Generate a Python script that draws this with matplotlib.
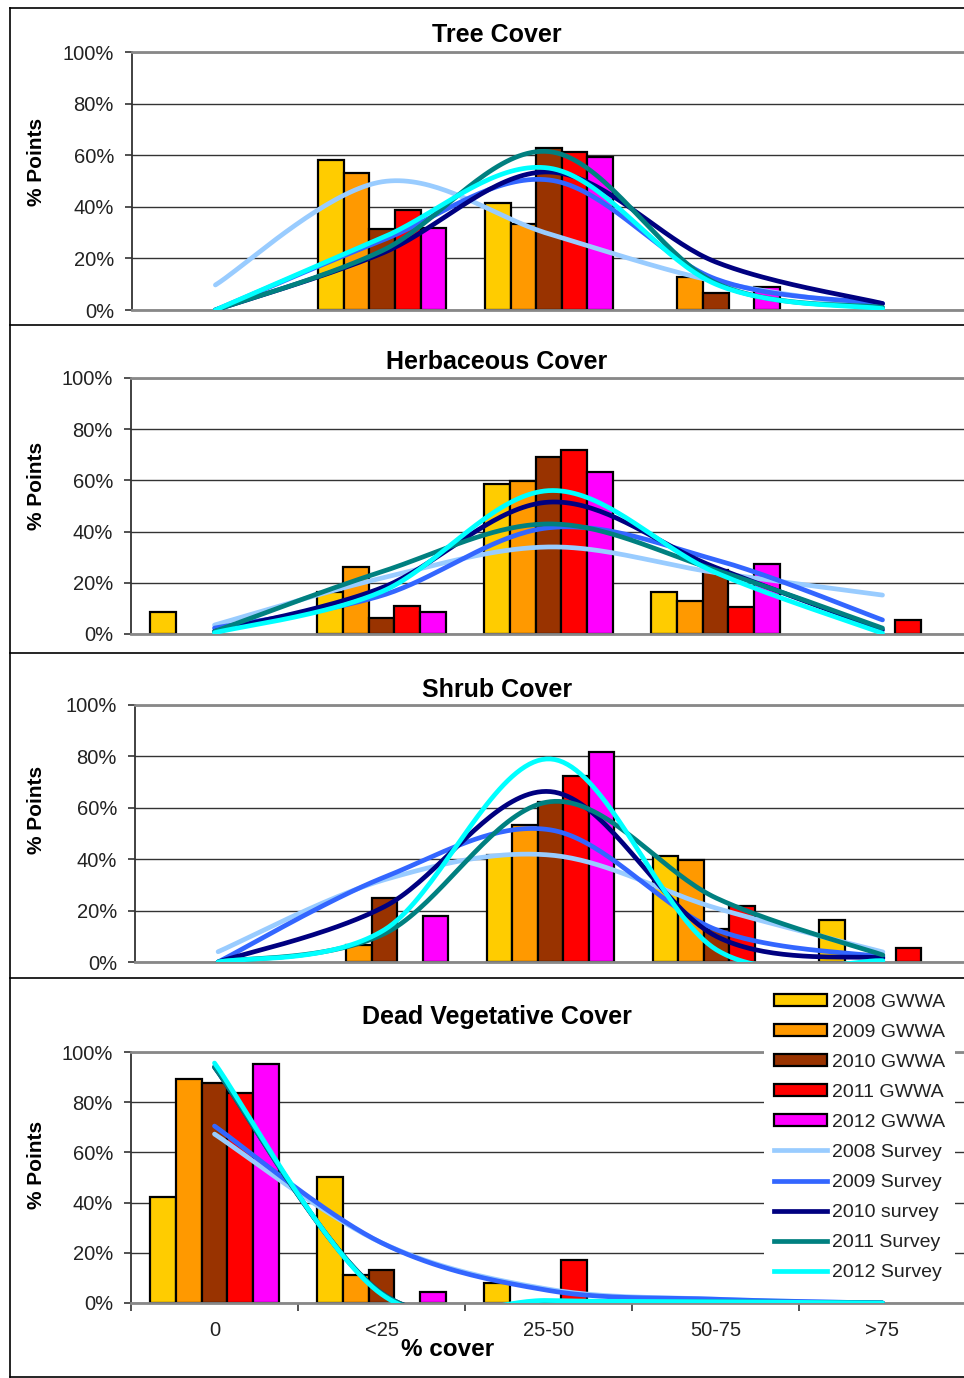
import matplotlib
matplotlib.use("Agg")
import matplotlib.pyplot as plt
import numpy as np
from matplotlib.patches import Patch
from matplotlib.lines import Line2D

plt.rcParams['font.family'] = ['Liberation Sans', 'DejaVu Sans']

# ---------------- data (percent of points) ----------------
categories = ['0', '<25', '25-50', '50-75', '>75']
titles = ['Tree Cover', 'Herbaceous Cover', 'Shrub Cover', 'Dead Vegetative Cover']

bar_names = ['2008 GWWA', '2009 GWWA', '2010 GWWA', '2011 GWWA', '2012 GWWA']
line_names = ['2008 Survey', '2009 Survey', '2010 survey', '2011 Survey', '2012 Survey']
bar_colors = ['#FFCC00', '#FF9900', '#993300', '#FF0000', '#FF00FF']
line_colors = ['#99CCFF', '#3366FF', '#000080', '#008080', '#00FFFF']

# bars: one list per year, values per category
tree_bars = [[0, 58, 41.5, 0, 0],
             [0, 53, 33.5, 12.8, 0],
             [0, 31.4, 62.8, 6.6, 0],
             [0, 38.8, 61.2, 0, 0],
             [0, 31.8, 59.3, 9, 0]]
herb_bars = [[8.6, 16.5, 58.6, 16.3, 0],
             [0, 26.3, 59.9, 13, 0],
             [0, 6.2, 69, 25, 0],
             [0, 11, 71.9, 10.7, 5.5],
             [0, 8.7, 63.4, 27.3, 0]]
shrub_bars = [[0, 0, 41.6, 41.4, 16.3],
              [0, 6.6, 53.3, 39.7, 0],
              [0, 24.8, 62.4, 13, 0],
              [0, 0, 72.5, 21.9, 5.3],
              [0, 18, 81.8, 0, 0]]
dead_bars = [[42.1, 50.3, 7.8, 0, 0],
             [89.1, 11.2, 0, 0, 0],
             [87.5, 13.1, 0, 0, 0],
             [83.8, 0, 17.1, 0, 0],
             [95.2, 4.5, 0, 0, 0]]

# survey lines: one list per year, values per category
tree_lines = [[9.7, 49.7, 29.5, 11, 1],
              [0, 27, 50.4, 12, 2.5],
              [0, 22, 53.5, 18.6, 2.5],
              [0, 23, 61.4, 10.5, 1],
              [0, 28, 55, 10, 0.5]]
herb_lines = [[3.5, 21.8, 34, 24, 15.2],
              [2.3, 15, 41.5, 29, 5.5],
              [1, 18, 51.5, 26, 1.6],
              [1, 24.3, 43, 25, 2.3],
              [0.5, 16.5, 56, 24, 0.3]]
shrub_lines = [[4, 32, 41.6, 20.9, 3.9],
               [0, 33, 51.4, 12.5, 2],
               [0, 21.5, 66.3, 9.9, 1.5],
               [0, 11, 62.4, 24.8, 2.7],
               [0, 12.5, 79, 4.7, 0.5]]
dead_lines = [[67.3, 24, 5.5, 1.5, 0],
              [70.5, 24, 5, 1.5, 0],
              [94, 4, 0.5, 0.3, 0],
              [94, 4, 0.5, 0.5, 0],
              [95.6, 3.5, 1, 0.5, 0]]

all_bars = [tree_bars, herb_bars, shrub_bars, dead_bars]
all_lines = [tree_lines, herb_lines, shrub_lines, dead_lines]


def smooth(vals, n=40):
    # Excel-like smoothed line (Bezier through the points)
    y = np.asarray(vals, float)
    pts = np.column_stack([np.arange(len(y), dtype=float), y])
    ext = np.vstack([pts[0], pts, pts[-1]])
    t = np.linspace(0, 1, n)[:, None]
    out = []
    for i in range(len(pts) - 1):
        p0, p3 = ext[i + 1], ext[i + 2]
        c1 = p0 + (ext[i + 2] - ext[i]) / 6
        c2 = p3 - (ext[i + 3] - ext[i + 1]) / 6
        seg = (1 - t) ** 3 * p0 + 3 * (1 - t) ** 2 * t * c1 + 3 * (1 - t) * t ** 2 * c2 + t ** 3 * p3
        out.append(seg if i == 0 else seg[1:])
    s = np.vstack(out)
    return s[:, 0], s[:, 1]


W, H = 964, 1378
fig = plt.figure(figsize=(W / 100, H / 100), dpi=100)


def fx(px):
    return px / W


def fy(py):
    return 1 - py / H


# plot areas in pixels: left, top, right, bottom
areas = [(132, 52, 966, 310), (131, 378, 966, 634), (135, 705, 966, 962), (131, 1052, 966, 1303)]
title_y = [35, 362, 690, 1017]
ylabel_y = [162, 486, 810, 1165]

# chart boxes
for yb in [8, 325, 653, 978, 1377]:
    fig.add_artist(Line2D([fx(10), 1], [fy(yb), fy(yb)], color='black', lw=1.2, transform=fig.transFigure))
fig.add_artist(Line2D([fx(10), fx(10)], [fy(8), fy(1377)], color='black', lw=1.2, transform=fig.transFigure))

x = np.arange(len(categories))
bw = 0.769 / 5

for k in range(4):
    l, t, r, b = areas[k]
    ax = fig.add_axes([fx(l), fy(b), (r - l) / W, (b - t) / H])
    ax.set_xlim(-0.5, 4.5)
    ax.set_ylim(0, 100)
    ax.set_axisbelow(True)

    for i in range(5):
        h = np.asarray(all_bars[k][i], float)
        m = h > 0
        ax.bar(x[m] + (i - 2) * bw, h[m], width=bw, color=bar_colors[i],
               edgecolor='black', linewidth=1.6, zorder=2)
    for i in range(5):
        sx, sy = smooth(all_lines[k][i])
        ax.plot(sx, sy, color=line_colors[i], lw=3.4, zorder=3, solid_capstyle='round')

    ax.set_yticks(np.arange(0, 101, 20))
    ax.set_yticklabels([f'{v}%' for v in range(0, 101, 20)])
    ax.yaxis.grid(True, color='#333333', lw=1.0)
    ax.tick_params(axis='y', direction='out', length=5, width=1.2, pad=8,
                   labelsize=14.5, labelcolor='#222222', color='#333333')
    ax.spines['right'].set_visible(False)
    ax.spines['top'].set_color('#888888')
    ax.spines['top'].set_linewidth(2)
    ax.spines['bottom'].set_color('#888888')
    ax.spines['bottom'].set_linewidth(2)
    ax.spines['left'].set_color('#333333')
    ax.spines['left'].set_linewidth(1.3)

    if k < 3:
        ax.set_xticks([])
    else:
        ax.set_xticks(x)
        ax.set_xticklabels(categories)
        ax.tick_params(axis='x', which='major', length=0, pad=13, labelsize=14.5, labelcolor='#222222')
        ax.set_xticks(np.arange(-0.5, 5, 1), minor=True)
        ax.tick_params(axis='x', which='minor', direction='out', length=6, width=1.2, color='#333333')

    fig.text(fx(497), fy(title_y[k]), titles[k], ha='center', va='center',
             fontsize=18, fontweight='bold')
    fig.text(fx(36), fy(ylabel_y[k]), '% Points', rotation=90, ha='center', va='center',
             fontsize=15, fontweight='bold')

    if k == 3:
        handles = [Patch(facecolor=c, edgecolor='black', linewidth=1.6) for c in bar_colors]
        handles += [Line2D([], [], color=c, lw=3.4) for c in line_colors]
        leg = ax.legend(handles, bar_names + line_names, loc='upper left',
                        bbox_to_anchor=(fx(764), fy(984)), bbox_transform=fig.transFigure,
                        fontsize=14, frameon=True, fancybox=False, framealpha=1,
                        facecolor='white', edgecolor='none', borderpad=0.5,
                        handlelength=2.75, handleheight=0.55, handletextpad=0.25,
                        labelspacing=0.67, borderaxespad=0)
        for txt in leg.get_texts():
            txt.set_color('#222222')
        leg.set_zorder(5)

fig.text(fx(448), fy(1349), '% cover', ha='center', va='center', fontsize=17.5, fontweight='bold')

fig.savefig('out.png', dpi=100)
